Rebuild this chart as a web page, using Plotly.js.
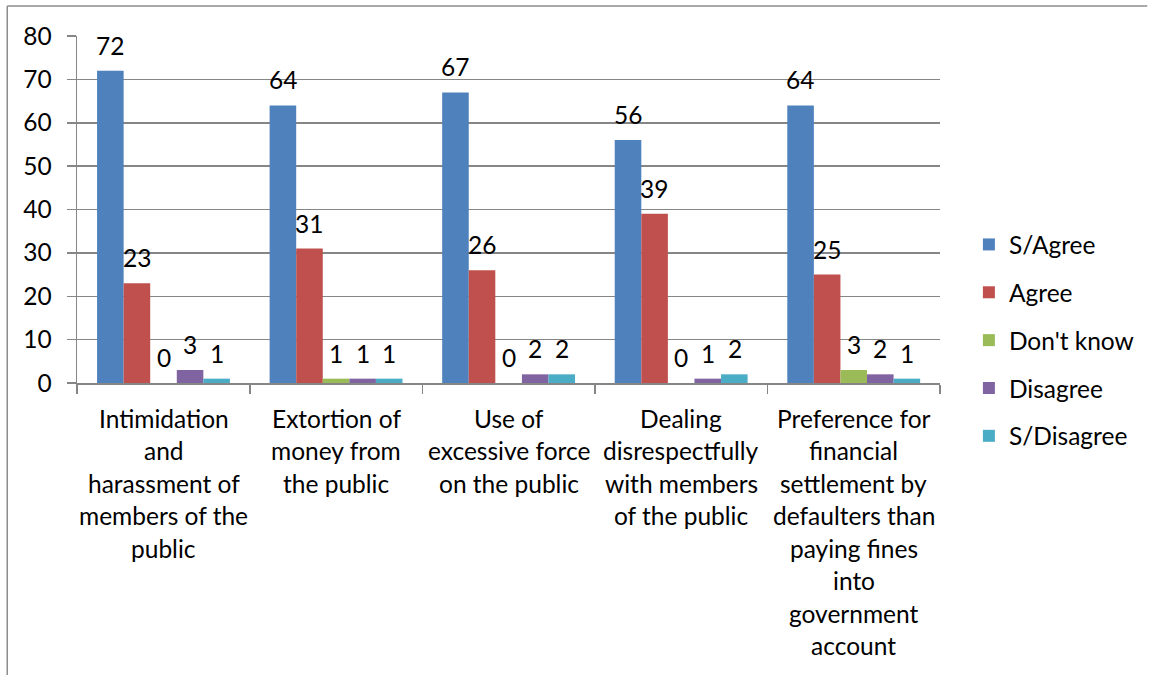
<!DOCTYPE html>
<html><head><meta charset="utf-8">
<script src="https://cdn.plot.ly/plotly-3.0.1.min.js"></script>
<style>html,body{margin:0;padding:0;background:#fff}#chart{width:1151px;height:675px}</style>
</head><body><div id="chart"></div>
<script>
const categories = [
  "Intimidation<br>and<br>harassment of<br>members of the<br>public",
  "Extortion of<br>money from<br>the public",
  "Use of<br>excessive force<br>on the public",
  "Dealing<br>disrespectfully<br>with members<br>of the public",
  "Preference for<br>financial<br>settlement by<br>defaulters than<br>paying fines<br>into<br>government<br>account"
];
const seriesNames = ["S/Agree", "Agree", "Don't know", "Disagree", "S/Disagree"];
const sAgree    = [72, 64, 67, 56, 64];
const agree     = [23, 31, 26, 39, 25];
const dontKnow  = [0, 1, 0, 0, 3];
const disagree  = [3, 1, 2, 1, 2];
const sDisagree = [1, 1, 2, 2, 1];
const yTicks = [0, 10, 20, 30, 40, 50, 60, 70, 80];

const seriesValues = [sAgree, agree, dontKnow, disagree, sDisagree];
const colors = ["#4F81BD", "#C0504D", "#9BBB59", "#8064A2", "#4BACC6"];
const FONT = "Lato, 'Open Sans', sans-serif";
const FS = 24.5;
const catKeys = categories.map((c, i) => "c" + i);

const traces = seriesNames.map((n, i) => ({
  type: "bar", name: n, x: catKeys, y: seriesValues[i],
  marker: {color: colors[i]}, legendgroup: "g" + i, hoverinfo: "y"
}));

const annotations = [];
// data labels
const plotW = 866, nCat = categories.length, bargap = 0.23;
const barW = plotW / nCat * (1 - bargap) / seriesNames.length;
seriesValues.forEach((vals, s) => {
  vals.forEach((v, c) => {
    annotations.push({
      x: catKeys[c], y: v, xref: "x", yref: "y", text: String(v), showarrow: false,
      xanchor: "center", yanchor: "bottom", yshift: 9,
      xshift: (s - (seriesNames.length - 1) / 2) * barW,
      font: {family: FONT, size: FS, color: "#000"}
    });
  });
});
// category labels (one annotation per line for Excel-like line spacing)
categories.forEach((cat, c) => {
  cat.split("<br>").forEach((line, k) => {
    annotations.push({
      x: catKeys[c], xref: "x", yref: "paper", y: -0.1009, yanchor: "middle",
      yshift: -k * 32.5, text: line, showarrow: false,
      font: {family: FONT, size: FS, color: "#000"}
    });
  });
});

const px = v => (v - 77) / 866, py = v => (383 - v) / 347;
const layout = {
  width: 1151, height: 675,
  margin: {l: 77, r: 208, t: 36, b: 292, pad: 0},
  paper_bgcolor: "#fff", plot_bgcolor: "#fff",
  font: {family: FONT, size: FS, color: "#000"},
  barmode: "group", bargap: bargap, bargroupgap: 0,
  xaxis: {
    type: "category", showticklabels: false, tickson: "boundaries",
    ticks: "outside", ticklen: 9, tickcolor: "#868686", tickwidth: 1.5,
    showline: true, linecolor: "#868686", linewidth: 1.5, showgrid: false,
    fixedrange: true
  },
  yaxis: {
    range: [0, 80], tickvals: yTicks, ticktext: yTicks.map(String),
    ticks: "outside", ticklen: 9, tickcolor: "#868686", tickwidth: 1.5,
    showline: true, linecolor: "#868686", linewidth: 1.5,
    showgrid: true, gridcolor: "#868686", gridwidth: 1.5, zeroline: false,
    ticklabelstandoff: 10, tickfont: {family: FONT, size: FS, color: "#000"},
    fixedrange: true
  },
  legend: {
    x: px(972), xanchor: "left", y: py(222), yanchor: "top",
    font: {family: FONT, size: FS, color: "#000"},
    tracegroupgap: 13, bgcolor: "rgba(0,0,0,0)"
  },
  showlegend: true,
  annotations: annotations,
  shapes: [
    {type: "line", xref: "paper", yref: "paper", x0: px(7), x1: px(1151), y0: py(6), y1: py(6), line: {color: "#8c8c8c", width: 1.5}},
    {type: "line", xref: "paper", yref: "paper", x0: px(7), x1: px(7), y0: py(6), y1: py(675), line: {color: "#8c8c8c", width: 1.5}}
  ]
};
Plotly.newPlot("chart", traces, layout, {displayModeBar: false, staticPlot: true});
</script></body></html>
